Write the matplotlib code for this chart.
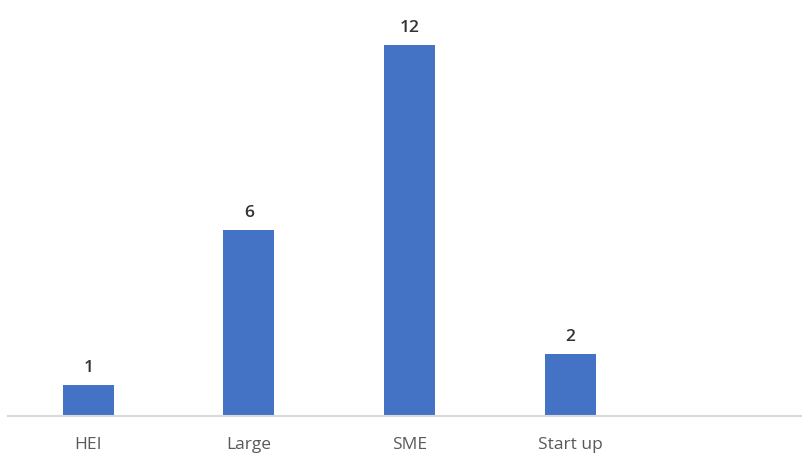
import matplotlib.pyplot as plt
import numpy as np

categories = ['HEI', 'Large', 'SME', 'Start up', '']
values = [1, 6, 12, 2, 0]

plt.rcParams['font.family'] = ['Open Sans', 'DejaVu Sans']

fig = plt.figure(figsize=(8.03, 4.55), dpi=100)
ax = fig.add_axes([8 / 803, 1 - 416 / 455, 1 - 8 / 803, 416 / 455])

x = np.arange(len(categories))
shown = [v if c else np.nan for c, v in zip(categories, values)]
bars = ax.bar(x, shown, width=0.317, color='#4472C4')

for xi, c, v in zip(x, categories, values):
    if c:
        ax.text(xi, v + 0.3, str(v), ha='center', va='bottom',
                fontsize=12.5, color='#333333', fontweight='semibold')

ax.set_xlim(-0.5, 4.45)
ax.set_ylim(0, 13.45)
ax.set_xticks(x[:4])
ax.set_xticklabels(categories[:4], fontsize=12.5, color='#595959')
ax.tick_params(axis='x', length=0, pad=15)
ax.set_yticks([])
for side in ['top', 'right', 'left']:
    ax.spines[side].set_visible(False)
ax.spines['bottom'].set_color('#d9d9d9')
ax.spines['bottom'].set_linewidth(1.5)

fig.savefig('out.png', dpi=100)
